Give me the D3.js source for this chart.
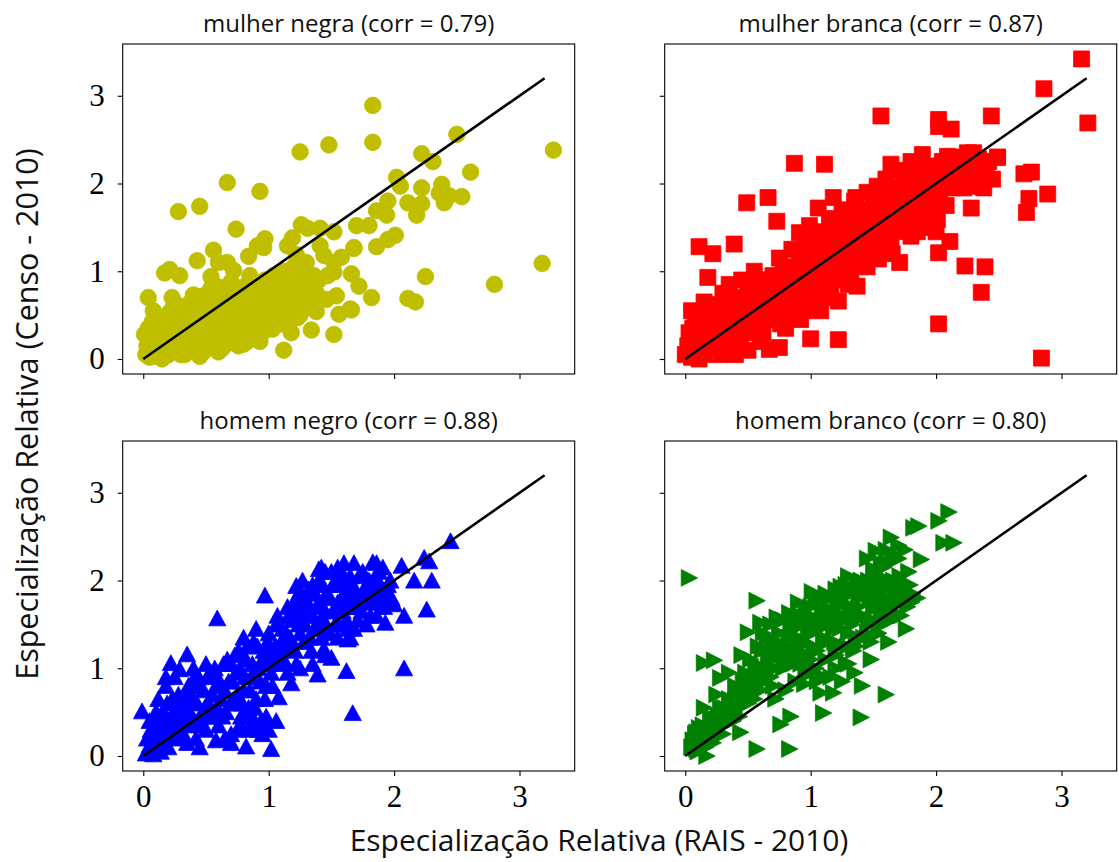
<!DOCTYPE html>
<html>
<head>
<meta charset="utf-8">
<script src="https://cdn.jsdelivr.net/npm/d3@7"></script>
<style>
  body { margin: 0; background: #fff; }
  svg { display: block; }
</style>
</head>
<body>
<svg id="chart" width="1119" height="862"></svg>
<script>
// Relative specialisation: RAIS 2010 (x) against Censo 2010 (y), by group.
const groupNames = ["mulher negra", "mulher branca", "homem negro", "homem branco"];
const correlations = ["0.79", "0.87", "0.88", "0.80"];
const xTickValues = [0, 1, 2, 3];
const yTickValues = [0, 1, 2, 3];
const identityLine = [[0, 0], [3.2, 3.2]];

const mulherNegra = [
  [1.83,2.89],[1.83,2.47],[1.48,2.44],[1.25,2.36],[3.27,2.38],[2.50,2.56],[2.22,2.34],[2.31,2.25],
  [2.61,2.13],[2.02,2.07],[0.67,2.01],[0.93,1.91],[0.45,1.74],[0.28,1.68],[0.74,1.48],[2.22,1.95],
  [2.38,1.99],[2.36,1.89],[2.54,1.85],[2.44,1.86],[2.40,1.78],[2.22,1.77],[2.18,1.64],[2.11,1.78],
  [2.05,1.97],[1.95,1.80],[1.86,1.69],[1.94,1.64],[1.80,1.52],[1.70,1.52],[1.52,1.45],[1.41,1.49],
  [1.26,1.53],[1.31,1.49],[2.01,1.41],[1.95,1.36],[1.86,1.28],[1.68,1.26],[3.18,1.09],[2.80,0.85],
  [2.25,0.94],[2.11,0.69],[2.17,0.65],[1.82,0.70],[1.72,0.83],[1.66,0.97],[1.58,1.16],[1.52,1.10],
  [1.44,1.18],[1.47,0.95],[1.52,0.99],[1.54,0.72],[1.46,0.68],[1.66,0.56],[1.56,0.51],[1.52,0.28],
  [1.34,0.33],[1.12,0.10],[1.38,0.54],[1.23,0.47],[1.03,0.34],[0.96,1.27],[0.91,1.29],[0.84,1.17],
  [0.97,1.37],[1.15,1.29],[1.19,1.38],[1.22,1.19],[1.27,1.04],[0.56,1.24],[0.43,1.12],[0.60,1.10],
  [0.67,1.10],[0.72,1.01],[0.54,0.94],[0.54,0.81],[0.21,1.02],[0.17,0.98],[0.29,0.95],[0.04,0.70],
  [0.23,0.70],[0.40,0.73],[0.21,0.53],[0.01,0.28],[0.07,0.42],[0.66,0.76],[0.80,0.82],[0.91,0.76],
  [0.80,0.17],[1.41,0.68],[1.65,0.57],[1.41,1.29],[1.68,1.27],
  [0.02,0.05],[0.05,0.02],[0.08,0.10],[0.10,0.03],[0.12,0.18],[0.15,0.08],[0.03,0.15],[0.06,0.25],
  [0.13,0.30],[0.18,0.15],[0.20,0.05],[0.10,0.45],[0.17,0.40],[0.20,0.25],
  [0.25,0.10],[0.28,0.20],[0.22,0.33],[0.30,0.35],[0.33,0.05],[0.35,0.25],[0.38,0.15],[0.40,0.40],
  [0.42,0.30],[0.45,0.20],[0.48,0.08],[0.27,0.50],[0.35,0.55],[0.45,0.50],[0.48,0.35],[0.30,0.60],
  [0.38,0.65],[0.50,0.60],[0.25,0.45],
  [0.52,0.20],[0.55,0.35],[0.58,0.45],[0.60,0.28],[0.62,0.55],[0.65,0.40],[0.68,0.65],[0.70,0.30],
  [0.72,0.50],[0.75,0.45],[0.78,0.60],[0.55,0.15],[0.63,0.12],[0.70,0.20],[0.80,0.35],[0.78,0.25],
  [0.58,0.65],[0.65,0.72],[0.55,0.55],
  [0.82,0.50],[0.85,0.65],[0.88,0.40],[0.90,0.55],[0.92,0.70],[0.95,0.45],[0.98,0.60],[1.00,0.75],
  [1.02,0.50],[1.05,0.65],[1.08,0.80],[0.85,0.30],[0.95,0.30],[1.05,0.40],[0.88,0.85],[1.00,0.88],
  [1.10,0.60],[0.83,0.20],[0.93,0.20],
  [1.12,0.70],[1.15,0.85],[1.18,0.55],[1.20,0.75],[1.22,0.90],[1.25,0.65],[1.28,0.80],[1.30,0.95],
  [1.32,0.70],[1.35,0.85],[1.38,0.75],[1.15,0.45],[1.25,0.50],[1.35,0.60],[1.12,1.00],[1.20,1.05],
  [1.30,1.10],[1.40,0.90],[1.18,0.30],
  [0.04,0.35],[0.08,0.55],[0.12,0.08],[0.16,0.25],[0.22,0.18],[0.24,0.60],[0.28,0.40],[0.32,0.15],
  [0.33,0.45],[0.37,0.35],[0.40,0.55],[0.43,0.10],[0.46,0.62],[0.50,0.25],[0.50,0.45],[0.53,0.70],
  [0.57,0.28],[0.60,0.50],[0.63,0.38],[0.66,0.58],[0.68,0.18],[0.70,0.45],[0.73,0.68],[0.74,0.35],
  [0.77,0.78],[0.80,0.55],[0.82,0.70],[0.86,0.50],[0.88,0.62],[0.90,0.80],[0.93,0.55],[0.96,0.70],
  [0.97,0.90],[1.00,0.55],[1.02,0.68],[1.04,0.95],[1.07,0.55],[1.10,0.75],[1.12,0.88],[1.14,0.62],
  [1.17,0.98],[1.20,0.65],[1.23,0.80],[1.26,0.92],[1.28,0.58],[1.33,0.80],[1.36,0.95],[1.10,0.40],
  [1.00,0.40],[0.90,0.30],[0.76,0.15],[0.60,0.08],[0.45,0.03],[0.30,0.05],[0.15,0.00],[0.25,0.28],
  [0.70,0.88],[0.60,0.82],[0.48,0.72],[0.85,0.95]
];

const mulherBranca = [
  [3.16,3.42],[2.86,3.08],[3.21,2.69],[1.56,2.77],[2.02,2.73],[2.02,2.65],[2.12,2.62],[2.44,2.77],
  [2.84,0.01],[2.02,0.40],[2.36,0.76],[2.23,1.06],[2.39,1.05],[2.28,1.72],[2.72,1.67],[2.74,1.83],
  [2.89,1.88],[2.70,2.11],[2.76,2.13],[2.49,2.30],[2.37,1.97],[2.28,1.97],[0.87,2.23],[1.11,2.22],
  [0.49,1.78],[0.66,1.84],[0.73,1.57],[0.11,1.28],[0.22,1.20],[0.39,1.31],[0.18,0.93],[1.00,0.23],
  [1.22,0.22],[0.75,0.13],[0.67,0.11],[1.37,0.83],[1.22,0.66],[1.08,0.55],[1.54,1.14],[1.71,1.10],
  [2.11,1.34],[2.02,1.21],[2.01,1.59],[1.89,1.70],[1.64,2.22],[1.89,2.33],[2.09,2.31],[1.82,2.13],
  [1.53,1.97],[1.18,1.84],[1.36,1.84],[1.06,1.72],[0.99,1.52],[0.91,1.44],
  [0.00,0.05],[0.02,0.15],[0.03,0.30],[0.05,0.02],[0.07,0.22],[0.08,0.40],[0.10,0.10],[0.12,0.30],
  [0.13,0.50],[0.15,0.05],[0.17,0.20],[0.18,0.38],[0.20,0.55],[0.22,0.12],[0.24,0.30],[0.26,0.45],
  [0.28,0.05],[0.30,0.22],[0.05,0.55],[0.15,0.65],
  [0.32,0.40],[0.34,0.60],[0.36,0.15],[0.38,0.30],[0.40,0.50],[0.42,0.70],[0.44,0.25],[0.46,0.40],
  [0.48,0.60],[0.50,0.80],[0.52,0.35],[0.55,0.50],[0.57,0.70],[0.60,0.90],[0.62,0.30],[0.64,0.55],
  [0.66,0.75],[0.68,0.45],[0.70,0.95],[0.35,0.85],[0.45,0.90],[0.55,1.00],[0.30,0.75],[0.60,0.20],
  [0.72,0.60],[0.74,0.80],[0.76,0.40],[0.78,1.00],[0.80,0.65],[0.82,0.85],[0.84,0.50],[0.86,1.05],
  [0.88,0.70],[0.90,0.90],[0.92,0.45],[0.94,1.15],[0.96,0.75],[0.98,1.00],[1.00,0.60],[1.02,1.25],
  [1.04,0.85],[1.06,1.05],[1.08,0.70],[1.10,1.30],[0.75,1.15],[0.85,1.25],[0.95,1.35],
  [1.12,0.95],[1.14,1.15],[1.16,0.80],[1.18,1.40],[1.20,1.05],[1.22,1.25],[1.24,0.90],[1.26,1.50],
  [1.28,1.15],[1.30,1.35],[1.32,1.00],[1.34,1.60],[1.36,1.25],[1.38,1.45],[1.40,1.10],[1.42,1.70],
  [1.44,1.35],[1.46,1.55],[1.48,1.20],[1.50,1.80],[1.15,1.60],[1.25,1.70],[1.35,1.80],[1.45,1.90],
  [1.52,1.40],[1.54,1.60],[1.56,1.25],[1.58,1.80],[1.60,1.50],[1.62,1.70],[1.64,1.35],[1.66,1.95],
  [1.68,1.55],[1.70,1.75],[1.72,1.45],[1.74,2.00],[1.76,1.60],[1.78,1.85],[1.80,1.40],[1.82,2.10],
  [1.84,1.70],[1.86,1.90],[1.88,1.55],[1.90,2.15],[1.60,2.05],[1.70,2.15],[1.80,2.25],
  [1.92,1.80],[1.95,2.00],[1.98,1.65],[2.00,2.20],[2.03,1.90],[2.06,2.10],[2.08,1.75],[2.10,2.25],
  [2.13,1.95],[2.16,2.15],[2.20,2.05],[2.24,2.25],[2.28,2.00],[2.32,2.20],[2.36,2.10],[2.15,2.30],
  [2.25,2.35],
  [0.04,0.08],[0.06,0.35],[0.09,0.18],[0.11,0.00],[0.14,0.42],[0.16,0.28],[0.19,0.12],[0.21,0.40],
  [0.23,0.62],[0.25,0.20],[0.27,0.35],[0.29,0.58],[0.31,0.10],[0.33,0.28],[0.37,0.48],[0.39,0.68],
  [0.41,0.22],[0.43,0.40],[0.47,0.55],[0.49,0.30],[0.51,0.65],[0.53,0.48],[0.56,0.85],[0.58,0.38],
  [0.61,0.62],[0.63,0.78],[0.65,0.45],[0.67,0.90],[0.69,0.62],[0.71,0.80],[0.73,0.48],[0.77,0.70],
  [0.79,0.88],[0.81,0.55],[0.83,1.00],[0.87,0.82],[0.89,0.58],[0.91,1.10],[0.93,0.85],[0.97,1.25],
  [0.99,0.88],[1.01,0.70],[1.03,1.10],[1.05,1.35],[1.07,0.92],[1.09,1.18],[1.11,1.45],[1.13,1.05],
  [1.17,1.30],[1.19,1.55],[1.21,1.15],[1.23,1.40],[1.27,1.30],[1.29,1.60],[1.31,1.20],[1.33,1.45],
  [1.37,1.65],[1.39,1.30],[1.41,1.55],[1.43,1.25],[1.47,1.70],[1.49,1.45],[1.51,1.60],[1.53,1.85],
  [1.57,1.55],[1.59,1.65],[1.61,1.35],[1.63,1.85],[1.67,1.70],[1.69,1.95],[1.71,1.60],[1.73,1.80],
  [1.77,1.95],[1.79,1.70],[1.81,1.55],[1.83,1.90],[1.87,2.05],[1.89,1.80],[1.91,1.95],[1.94,2.15],
  [1.97,1.90],[1.99,2.05],[2.02,1.80],[2.05,2.25],[2.09,2.00],[2.12,2.15],[2.18,2.20],[2.22,1.95],
  [2.30,2.10],[2.34,2.28],[2.40,2.22],[1.95,1.50],[1.85,1.45],[2.00,1.45],[1.65,1.20],[1.45,1.05],
  [1.30,0.85],[1.15,0.70],[0.95,0.55],[0.80,0.35],[0.50,0.10],[0.40,0.05],
  [2.18,2.30],[2.30,2.35],[2.42,2.25],[2.10,2.05],[2.45,2.05],[2.38,1.95],[2.49,2.30]
];

const homemNegro = [
  [2.45,2.45],[2.24,2.26],[2.28,2.22],[2.06,2.17],[2.16,2.00],[2.30,2.00],[2.26,1.67],[2.08,1.60],
  [2.08,1.00],[2.00,1.73],[1.67,0.49],[1.62,0.97],[1.39,0.93],[1.50,1.12],[1.44,1.22],[1.08,0.67],
  [1.06,0.40],[1.02,0.08],[0.82,0.11],[0.70,0.15],[0.59,1.57],[0.97,1.83],[1.68,2.20],[1.83,2.21],
  [1.40,2.13],[1.22,1.94],[-0.01,0.51],[0.11,0.48],[0.22,1.06],[0.35,1.16],[0.29,0.99],[0.18,0.90],
  [1.63,1.33],[1.86,2.20],[1.42,2.15],[1.27,2.00],[1.72,1.70],[1.93,1.52],[1.18,0.83],
  [0.02,0.03],[0.05,0.12],[0.07,0.25],[0.08,0.02],[0.10,0.35],[0.12,0.15],[0.14,0.05],[0.15,0.45],
  [0.17,0.25],[0.19,0.60],[0.20,0.10],[0.22,0.35],[0.24,0.50],[0.26,0.20],[0.28,0.70],[0.30,0.40],
  [0.10,0.50],[0.05,0.40],[0.18,0.80],[0.25,0.90],[0.12,0.65],
  [0.32,0.25],[0.34,0.55],[0.36,0.80],[0.38,0.35],[0.40,0.65],[0.42,0.20],[0.44,0.90],[0.46,0.45],
  [0.48,0.75],[0.50,0.30],[0.52,0.60],[0.54,0.95],[0.56,0.45],[0.58,0.80],[0.60,0.35],[0.62,0.65],
  [0.64,1.05],[0.66,0.50],[0.68,0.85],[0.70,0.25],[0.40,1.00],[0.50,1.05],[0.35,0.15],[0.45,0.10],
  [0.58,0.18],[0.65,0.20],
  [0.72,0.60],[0.74,0.95],[0.76,1.20],[0.78,0.45],[0.80,0.75],[0.82,1.10],[0.84,0.55],[0.86,0.90],
  [0.88,1.30],[0.90,0.65],[0.92,1.00],[0.94,0.40],[0.96,1.20],[0.98,0.80],[1.00,1.40],[1.02,0.95],
  [1.04,1.15],[1.06,1.50],[1.08,1.05],[1.10,1.30],[0.75,0.30],[0.85,0.30],[0.95,0.25],[0.80,1.35],
  [0.90,1.45],[0.70,1.05],
  [1.12,1.10],[1.14,1.40],[1.16,1.60],[1.18,1.25],[1.20,1.75],[1.22,1.05],[1.24,1.50],[1.26,1.80],
  [1.28,1.30],[1.30,1.60],[1.32,1.90],[1.34,1.20],[1.36,1.45],[1.38,1.70],[1.40,2.00],[1.42,1.35],
  [1.44,1.55],[1.46,1.85],[1.48,1.40],[1.50,2.10],[1.15,0.95],[1.25,1.00],[1.35,1.05],[1.45,1.15],
  [1.52,1.65],[1.54,1.95],[1.56,1.50],[1.58,1.80],[1.60,2.05],[1.62,1.55],[1.64,1.75],[1.66,1.95],
  [1.68,1.45],[1.70,1.85],[1.72,2.05],[1.74,1.65],[1.76,1.90],[1.78,1.50],[1.80,2.00],[1.82,1.75],
  [1.84,1.95],[1.86,1.60],[1.88,2.10],[1.90,1.85],[1.92,1.70],[1.95,1.95],[1.98,1.80],[1.55,1.35],
  [1.65,1.35],
  [0.03,0.20],[0.06,0.30],[0.09,0.15],[0.11,0.25],[0.13,0.40],[0.16,0.15],[0.18,0.45],[0.21,0.25],
  [0.23,0.65],[0.25,0.38],[0.27,0.55],[0.29,0.25],[0.31,0.60],[0.33,0.40],[0.35,0.70],[0.37,0.50],
  [0.39,0.85],[0.41,0.40],[0.43,0.60],[0.45,0.80],[0.47,0.35],[0.49,0.55],[0.51,0.90],[0.53,0.45],
  [0.55,0.70],[0.57,1.00],[0.59,0.55],[0.61,0.85],[0.63,0.45],[0.65,0.75],[0.67,1.10],[0.69,0.60],
  [0.71,0.85],[0.73,1.15],[0.75,0.70],[0.77,1.00],[0.79,0.60],[0.81,0.90],[0.83,1.25],[0.85,0.75],
  [0.87,1.05],[0.89,0.55],[0.91,1.25],[0.93,0.85],[0.95,1.10],[0.97,0.65],[0.99,1.30],[1.01,1.05],
  [1.03,0.80],[1.05,1.25],[1.07,1.60],[1.09,1.15],[1.11,1.45],[1.13,1.25],[1.15,1.70],[1.17,1.35],
  [1.19,1.55],[1.21,1.20],[1.23,1.65],[1.25,1.40],[1.27,1.70],[1.29,1.50],[1.31,1.75],[1.33,1.35],
  [1.35,1.60],[1.37,1.85],[1.39,1.50],[1.41,1.75],[1.43,1.95],[1.45,1.65],[1.47,1.45],[1.49,1.80],
  [1.51,1.95],[1.53,1.50],[1.55,1.75],[1.57,2.00],[1.59,1.65],[1.61,1.85],[1.63,1.45],[1.65,2.05],
  [1.67,1.70],[1.69,1.90],[1.71,1.55],[1.73,1.80],[1.75,2.10],[1.77,1.75],[1.79,1.90],[1.81,1.60],
  [1.83,1.85],[1.85,2.05],[1.87,1.75],[1.89,1.95],[1.91,2.15],[1.94,1.85],[1.97,2.00],[1.55,2.15],
  [1.60,2.20],[1.45,2.10],[1.25,1.88],[1.35,1.95],
  [0.78,0.35],[0.88,0.42],[0.98,0.45],[0.92,0.30],[1.00,0.30],[0.82,0.50]
];

const homemBranco = [
  [2.10,2.78],[2.02,2.68],[1.86,2.62],[1.82,2.60],[2.14,2.43],[2.06,2.43],[1.88,2.24],[1.64,2.49],
  [1.52,2.34],[0.03,2.03],[0.57,1.77],[0.50,1.41],[0.60,1.52],[0.73,1.58],[0.83,1.63],[1.01,1.87],
  [1.24,1.93],[1.37,1.96],[1.50,2.13],[1.76,1.96],[0.15,1.06],[0.23,1.09],[0.28,0.89],[0.57,0.08],
  [0.83,0.08],[1.40,0.44],[1.60,0.70],[1.41,0.80],[1.10,0.49],[1.18,0.72],[1.08,0.72],[0.76,0.36],
  [0.84,0.45],[0.40,0.63],[0.36,0.57],[0.49,0.80],[0.11,0.32],[0.17,0.00],[0.09,0.27],[0.44,0.27],
  [0.05,0.10],[0.08,0.25],[0.10,0.05],[0.12,0.18],[0.14,0.35],[0.16,0.10],[0.18,0.28],[0.20,0.45],
  [0.22,0.15],[0.25,0.35],[0.28,0.55],[0.30,0.25],[0.32,0.45],[0.35,0.65],[0.38,0.40],[0.40,0.80],
  [0.42,0.55],[0.45,0.70],[0.48,0.95],[0.50,0.60],[0.52,1.10],[0.55,0.85],[0.58,1.25],[0.60,0.75],
  [0.62,1.00],[0.65,1.35],[0.68,0.90],[0.70,1.15],[0.72,0.65],[0.75,1.40],[0.78,1.00],[0.80,0.75],
  [0.15,0.55],[0.25,0.70],[0.35,0.95],[0.45,1.15],
  [0.82,1.25],[0.84,1.50],[0.86,1.05],[0.88,0.85],[0.90,1.35],[0.92,1.60],[0.94,1.15],[0.96,0.95],
  [0.98,1.45],[1.00,1.70],[1.02,1.25],[1.04,1.00],[1.06,1.55],[1.08,1.80],[1.10,1.35],[1.12,1.10],
  [1.14,1.65],[1.16,0.90],[1.18,1.45],[1.20,1.90],[1.22,1.25],[1.24,1.60],[1.26,1.75],[1.28,1.05],
  [1.30,1.40],[1.32,1.85],[1.34,1.20],[1.36,1.55],[1.38,1.70],[1.40,2.00],[1.42,1.35],[1.44,1.85],
  [1.46,1.50],[1.48,1.10],[1.50,1.70],[1.52,1.95],[1.54,1.40],[1.56,1.60],[1.58,2.15],[1.60,1.80],
  [1.62,1.30],[1.64,1.55],[1.66,2.00],[1.68,1.75],[1.70,2.25],[1.72,1.60],[1.74,1.90],[1.76,1.45],
  [1.78,2.10],[1.80,1.75],[1.65,2.30],[1.75,2.35],[1.55,2.05],[1.85,1.80],
  [0.06,0.18],[0.09,0.08],[0.11,0.22],[0.13,0.12],[0.16,0.30],[0.19,0.18],[0.21,0.35],[0.23,0.25],
  [0.26,0.45],[0.29,0.35],[0.31,0.55],[0.34,0.40],[0.37,0.60],[0.39,0.50],[0.41,0.70],[0.43,0.45],
  [0.46,0.85],[0.49,0.70],[0.51,0.90],[0.53,0.75],[0.56,1.05],[0.59,0.95],[0.61,1.20],[0.63,0.85],
  [0.66,1.10],[0.69,1.25],[0.71,1.00],[0.73,1.30],[0.76,1.15],[0.79,1.25],[0.81,1.05],[0.83,1.35],
  [0.85,1.20],[0.87,1.45],[0.89,1.10],[0.91,1.25],[0.93,1.50],[0.95,1.30],[0.97,1.15],[0.99,1.60],
  [1.01,1.40],[1.03,1.55],[1.05,1.20],[1.07,1.45],[1.09,1.65],[1.11,1.50],[1.13,1.30],[1.15,1.80],
  [1.17,1.55],[1.19,1.30],[1.21,1.70],[1.23,1.45],[1.25,1.85],[1.27,1.55],[1.29,1.25],[1.31,1.70],
  [1.33,1.50],[1.35,1.90],[1.37,1.35],[1.39,1.80],[1.41,1.60],[1.43,1.95],[1.45,1.40],[1.47,1.80],
  [1.49,1.55],[1.51,2.05],[1.53,1.70],[1.55,1.85],[1.57,1.50],[1.59,1.95],[1.61,2.20],[1.63,1.70],
  [1.67,1.85],[1.69,1.60],[1.71,2.05],[1.73,1.80],[1.77,1.70],[1.79,1.95],[1.81,1.85],[1.60,2.35],
  [1.70,2.40],[1.45,2.25],[1.30,2.05],[1.00,0.95],[1.10,0.90],[1.20,1.00],[1.30,1.05],[1.05,0.85],
  [0.95,0.82],[1.35,0.95],[1.25,0.85],
  [0.62,1.40],[0.68,1.50],[0.74,1.20],[0.78,1.55],[0.86,1.60],[0.90,1.75],[0.96,1.70],[1.04,1.75],
  [1.12,1.85],[1.18,1.65],[1.22,1.80],[1.28,1.95],[1.34,1.65],[1.40,1.90],[1.46,2.00],[1.52,1.80],
  [1.58,1.70],[1.64,1.95],[1.72,1.95],[1.56,2.20],[1.48,1.30],[1.36,1.25],[1.20,1.15],[1.00,1.10],
  [0.92,1.05],[0.70,0.80],[0.55,0.65]
];

const seriesData = [mulherNegra, mulherBranca, homemNegro, homemBranco];
const seriesColors = ["#bfbf00", "#ff0000", "#0000ff", "#008000"];
const seriesMarkers = ["circle", "square", "triangleUp", "triangleRight"];

// Page layout
const panelW = 452, panelH = 330;
const panelLeft = [122.7, 664.7];
const panelTop = [44, 441];

const svg = d3.select("#chart");

const x = d3.scaleLinear().domain([-0.164, 3.44]).range([0, panelW]);
const y = d3.scaleLinear().domain([-0.171, 3.59]).range([panelH, 0]);

const markerPath = {
  circle: d3.symbol().type(d3.symbolCircle).size(Math.PI * 8.3 * 8.3)(),
  square: "M-8,-8H8V8H-8Z",
  triangleUp: "M0,-8.2L8.6,7.6L-8.6,7.6Z",
  triangleRight: "M8.6,0L-7.8,-8.4L-7.8,8.4Z"
};

const sansFont = "'Open Sans', 'Noto Sans', 'DejaVu Sans', sans-serif";
const serifFont = "'Liberation Serif', 'DejaVu Serif', serif";

seriesData.forEach((pts, i) => {
  const col = i % 2, row = Math.floor(i / 2);
  const g = svg.append("g")
    .attr("transform", `translate(${panelLeft[col]},${panelTop[row]})`);

  const clipId = "clip" + i;
  g.append("clipPath").attr("id", clipId)
    .append("rect").attr("width", panelW).attr("height", panelH);

  const plot = g.append("g").attr("clip-path", `url(#${clipId})`);

  plot.selectAll("path.pt")
    .data(pts)
    .join("path")
    .attr("class", "pt")
    .attr("d", markerPath[seriesMarkers[i]])
    .attr("transform", d => `translate(${x(d[0])},${y(d[1])})`)
    .attr("fill", seriesColors[i])
    .attr("stroke", seriesColors[i])
    .attr("stroke-width", 0.8);

  plot.append("path")
    .datum(identityLine)
    .attr("d", d3.line().x(d => x(d[0])).y(d => y(d[1])))
    .attr("fill", "none")
    .attr("stroke", "#000")
    .attr("stroke-width", 2.6);

  // Axes
  const xAxis = d3.axisBottom(x).tickValues(xTickValues).tickSize(5).tickPadding(9)
    .tickFormat(row === 1 ? d3.format("d") : () => "");
  const yAxis = d3.axisLeft(y).tickValues(yTickValues).tickSize(5).tickPadding(13)
    .tickFormat(col === 0 ? d3.format("d") : () => "");

  const gx = g.append("g").attr("transform", `translate(0,${panelH})`).call(xAxis);
  const gy = g.append("g").call(yAxis);
  [gx, gy].forEach(a => {
    a.select(".domain").remove();
    a.selectAll(".tick line").attr("stroke", "#000").attr("stroke-width", 1.1);
    a.selectAll(".tick text")
      .attr("fill", "#000")
      .style("font-family", serifFont)
      .style("font-size", "31px");
  });

  g.append("rect")
    .attr("width", panelW).attr("height", panelH)
    .attr("fill", "none").attr("stroke", "#000").attr("stroke-width", 1.1);

  g.append("text")
    .attr("x", panelW / 2).attr("y", -12)
    .attr("text-anchor", "middle")
    .style("font-family", sansFont)
    .style("font-size", "24px")
    .attr("fill", "#111")
    .text(`${groupNames[i]} (corr = ${correlations[i]})`);
});

svg.append("text")
  .attr("transform", "translate(38,414) rotate(-90)")
  .attr("text-anchor", "middle")
  .style("font-family", sansFont)
  .style("font-size", "30.5px")
  .attr("fill", "#111")
  .text("Especialização Relativa (Censo - 2010)");

svg.append("text")
  .attr("x", 599).attr("y", 851)
  .attr("text-anchor", "middle")
  .style("font-family", sansFont)
  .style("font-size", "30px")
  .attr("fill", "#111")
  .text("Especialização Relativa (RAIS - 2010)");
</script>
</body>
</html>
